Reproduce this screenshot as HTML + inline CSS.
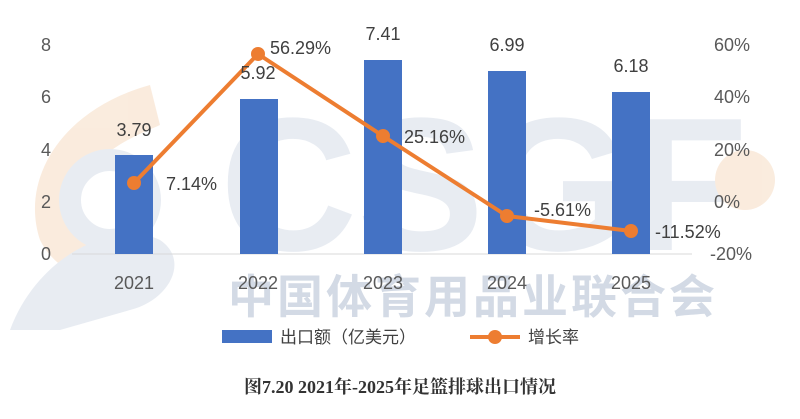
<!DOCTYPE html>
<html><head><meta charset="utf-8"><style>
body{margin:0;background:#fff;}
svg{display:block;font-family:"Liberation Sans","Noto Sans CJK SC",sans-serif;}
</style></head><body>
<svg width="800" height="419" viewBox="0 0 800 419" xmlns="http://www.w3.org/2000/svg">
<!-- watermark -->
<g opacity="0.55">
<path d="M150 85 C60 110 20 180 40 240 C60 280 110 290 140 270 C80 260 60 200 100 160 C120 140 150 130 160 125 Z" fill="#f6dcc3"/>
<path d="M10 330 C40 250 120 220 160 240 C190 260 170 300 130 310 L60 330 Z" fill="#d6dde8"/>
<circle cx="110" cy="200" r="40" fill="none" stroke="#d6dde8" stroke-width="22"/>
<text x="220" y="250" font-size="190" font-weight="bold" fill="#d6dde8">CSGF</text>
<circle cx="745" cy="180" r="30" fill="#f6dcc3"/>
</g>
<text x="228" y="313" font-size="46" font-weight="bold" fill="#d3dae5" font-family="Noto Sans CJK SC,sans-serif" letter-spacing="3">中国体育用品业联合会</text>
<!-- axis -->
<line x1="72" y1="254" x2="692" y2="254" stroke="#d9d9d9" stroke-width="1"/>
<g fill="#595959" font-size="18">
<text x="51" y="51" text-anchor="end">8</text>
<text x="51" y="103" text-anchor="end">6</text>
<text x="51" y="156" text-anchor="end">4</text>
<text x="51" y="208" text-anchor="end">2</text>
<text x="51" y="260" text-anchor="end">0</text>
<text x="750" y="51" text-anchor="end">60%</text>
<text x="750" y="103" text-anchor="end">40%</text>
<text x="750" y="156" text-anchor="end">20%</text>
<text x="740" y="208" text-anchor="end">0%</text>
<text x="752" y="260" text-anchor="end">-20%</text>
<text x="134" y="289" text-anchor="middle">2021</text>
<text x="258" y="289" text-anchor="middle">2022</text>
<text x="383" y="289" text-anchor="middle">2023</text>
<text x="507" y="289" text-anchor="middle">2024</text>
<text x="631" y="289" text-anchor="middle">2025</text>
</g>
<!-- bars -->
<g fill="#4472c4">
<rect x="115" y="155" width="38" height="99"/>
<rect x="240" y="99" width="38" height="155"/>
<rect x="364" y="60" width="38" height="194"/>
<rect x="488" y="71" width="38" height="183"/>
<rect x="612" y="92" width="38" height="162"/>
</g>
<!-- line -->
<polyline points="134,183 258,54 383,136 507,216 631,231" fill="none" stroke="#ed7d31" stroke-width="4" stroke-linejoin="round"/>
<g fill="#ed7d31">
<circle cx="134" cy="183" r="7"/><circle cx="258" cy="54" r="7"/><circle cx="383" cy="136" r="7"/><circle cx="507" cy="216" r="7"/><circle cx="631" cy="231" r="7"/>
</g>
<!-- labels -->
<g fill="#404040" font-size="18">
<text x="134" y="136" text-anchor="middle">3.79</text>
<text x="258" y="79" text-anchor="middle">5.92</text>
<text x="383" y="40" text-anchor="middle">7.41</text>
<text x="507" y="51" text-anchor="middle">6.99</text>
<text x="631" y="72" text-anchor="middle">6.18</text>
<text x="166" y="190">7.14%</text>
<text x="270" y="54">56.29%</text>
<text x="404" y="143">25.16%</text>
<text x="534" y="216">-5.61%</text>
<text x="655" y="238">-11.52%</text>
</g>
<!-- legend -->
<rect x="222" y="330" width="50" height="13" fill="#4472c4"/>
<text x="280" y="343" font-size="17" fill="#404040">出口额（亿美元）</text>
<line x1="470" y1="337" x2="520" y2="337" stroke="#ed7d31" stroke-width="4"/>
<circle cx="495" cy="337" r="7" fill="#ed7d31"/>
<text x="528" y="343" font-size="17" fill="#404040">增长率</text>
<text x="400" y="393" font-size="18" font-weight="bold" fill="#333" text-anchor="middle" font-family="Liberation Serif,Noto Serif CJK SC,serif">图7.20 2021年-2025年足篮排球出口情况</text>
</svg>
</body></html>
